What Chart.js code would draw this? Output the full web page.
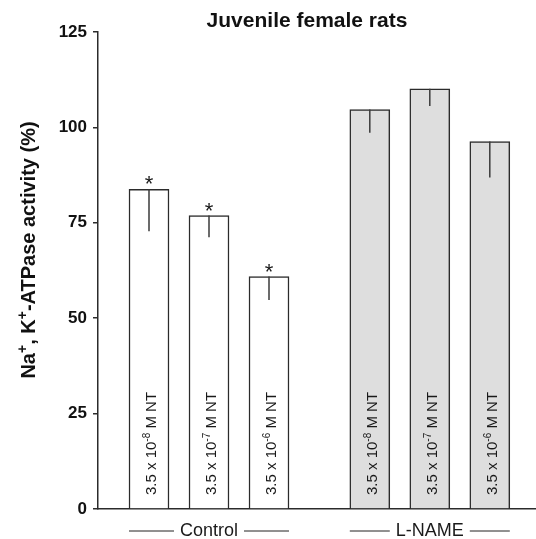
<!DOCTYPE html>
<html>
<head>
<meta charset="utf-8">
<script src="https://cdn.jsdelivr.net/npm/chart.js@4/dist/chart.umd.min.js"></script>
<style>
  html, body { margin: 0; padding: 0; background: #fff; }
  #wrap { width: 536px; height: 539px; }
</style>
</head>
<body>
<div id="wrap"><canvas id="chart" width="536" height="539"></canvas></div>
<script>
"use strict";

// datos
const groups = ["Control", "L-NAME"];
const doseExp = ["-8", "-7", "-6"];
const controlMean = [83.8, 76.9, 60.9];
const controlSd = [11.0, 5.7, 6.1];
const lnameMean = [104.7, 110.1, 96.3];
const lnameSd = [6.1, 4.5, 9.4];
const controlSig = [true, true, true];
const yMax = 125;
const yStep = 25;

// posición de los grupos en el eje x (unidades = separación entre barras)
const GROUP_START = [1, 4.68];
const INK = "#2b2b2b";
const FONT = "Arial, 'Liberation Sans', Helvetica, sans-serif";

const means = [controlMean, lnameMean];
const sds = [controlSd, lnameSd];
const points = [];
const errs = [];
const fills = [];
means.forEach((arr, g) => {
  arr.forEach((v, i) => {
    points.push({ x: GROUP_START[g] + i, y: v });
    errs.push(sds[g][i]);
    fills.push(g === 0 ? "#ffffff" : "#dedede");
  });
});

// texto con superíndices, dibujado en el sistema actual del contexto
function drawRich(ctx, parts, x, y, size, weight) {
  let cx = x;
  parts.forEach((p) => {
    const s = p.sup ? Math.round(size * 0.68) : size;
    ctx.font = `${weight} ${s}px ${FONT}`;
    ctx.fillText(p.t, cx, p.sup ? y - size * 0.38 : y);
    cx += ctx.measureText(p.t).width;
  });
  return cx - x;
}
function richWidth(ctx, parts, size, weight) {
  let w = 0;
  parts.forEach((p) => {
    const s = p.sup ? Math.round(size * 0.68) : size;
    ctx.font = `${weight} ${s}px ${FONT}`;
    w += ctx.measureText(p.t).width;
  });
  return w;
}

const decorPlugin = {
  id: "decor",
  afterDatasetsDraw(chart) {
    const { ctx, chartArea } = chart;
    const y = chart.scales.y;
    const meta = chart.getDatasetMeta(0);
    ctx.save();

    // barras de error (solo hacia abajo) y asteriscos
    ctx.strokeStyle = "#3a3a3a";
    ctx.lineWidth = 1.5;
    meta.data.forEach((bar, k) => {
      const top = y.getPixelForValue(points[k].y);
      const bot = y.getPixelForValue(points[k].y - errs[k]);
      ctx.beginPath();
      ctx.moveTo(bar.x, top);
      ctx.lineTo(bar.x, bot);
      ctx.stroke();
      if (k < controlSig.length && controlSig[k]) {
        ctx.fillStyle = "#1a1a1a";
        ctx.font = `22px ${FONT}`;
        ctx.textAlign = "center";
        ctx.textBaseline = "alphabetic";
        ctx.fillText("*", bar.x, top + 2);
      }
    });

    // etiquetas verticales dentro de las barras
    ctx.fillStyle = "#1a1a1a";
    ctx.textAlign = "left";
    ctx.textBaseline = "alphabetic";
    meta.data.forEach((bar, k) => {
      const parts = [
        { t: "3.5 x 10" },
        { t: doseExp[k % 3], sup: true },
        { t: " M NT" },
      ];
      ctx.save();
      ctx.translate(bar.x + 7, chartArea.bottom - 14);
      ctx.rotate(-Math.PI / 2);
      drawRich(ctx, parts, 0, 0, 15, "normal");
      ctx.restore();
    });

    // etiquetas de grupo con líneas
    ctx.font = `18px ${FONT}`;
    ctx.textAlign = "center";
    ctx.lineWidth = 1;
    ctx.strokeStyle = "#222";
    groups.forEach((name, g) => {
      const first = meta.data[g * 3];
      const last = meta.data[g * 3 + 2];
      const x0 = first.x - first.width / 2;
      const x1 = last.x + last.width / 2;
      const cx = (x0 + x1) / 2;
      const w = ctx.measureText(name).width;
      const ly = chartArea.bottom + 22;
      ctx.fillText(name, cx, chartArea.bottom + 27);
      ctx.beginPath();
      ctx.moveTo(x0, ly);
      ctx.lineTo(cx - w / 2 - 6, ly);
      ctx.moveTo(cx + w / 2 + 6, ly);
      ctx.lineTo(x1, ly);
      ctx.stroke();
    });

    // título
    ctx.fillStyle = "#111";
    ctx.font = `bold 21px ${FONT}`;
    ctx.fillText("Juvenile female rats", (chartArea.left + chartArea.right) / 2 - 10, 27);

    // título del eje y con superíndices
    const yParts = [
      { t: "Na" }, { t: "+", sup: true }, { t: ", K" }, { t: "+", sup: true },
      { t: "-ATPase activity (%)" },
    ];
    const tw = richWidth(ctx, yParts, 20, "bold");
    ctx.save();
    ctx.translate(35, 250 + tw / 2);
    ctx.rotate(-Math.PI / 2);
    ctx.textAlign = "left";
    drawRich(ctx, yParts, 0, 0, 20, "bold");
    ctx.restore();

    ctx.restore();
  },
};

new Chart(document.getElementById("chart"), {
  type: "bar",
  data: {
    datasets: [
      {
        data: points,
        backgroundColor: fills,
        borderColor: INK,
        borderWidth: 1.5,
        barThickness: 40,
      },
    ],
  },
  options: {
    responsive: false,
    animation: false,
    events: [],
    layout: { padding: { top: 32, left: 0, right: 0, bottom: 0 } },
    plugins: {
      legend: { display: false },
      tooltip: { enabled: false },
      title: { display: false },
    },
    scales: {
      x: {
        type: "linear",
        offset: false,
        min: 0.15,
        max: 7.45,
        ticks: { display: false },
        grid: { display: false, drawTicks: false },
        border: { display: true, color: INK, width: 1.5 },
        afterFit: (s) => { s.height = 30; },
      },
      y: {
        min: 0,
        max: yMax,
        ticks: {
          stepSize: yStep,
          color: "#111",
          padding: 6,
          font: { family: FONT, size: 17, weight: "bold" },
        },
        grid: { drawOnChartArea: false, tickLength: 5, color: INK, lineWidth: 1.5 },
        border: { color: INK, width: 1.5 },
        afterFit: (s) => { s.width = 98; },
      },
    },
  },
  plugins: [decorPlugin],
});
</script>
</body>
</html>
